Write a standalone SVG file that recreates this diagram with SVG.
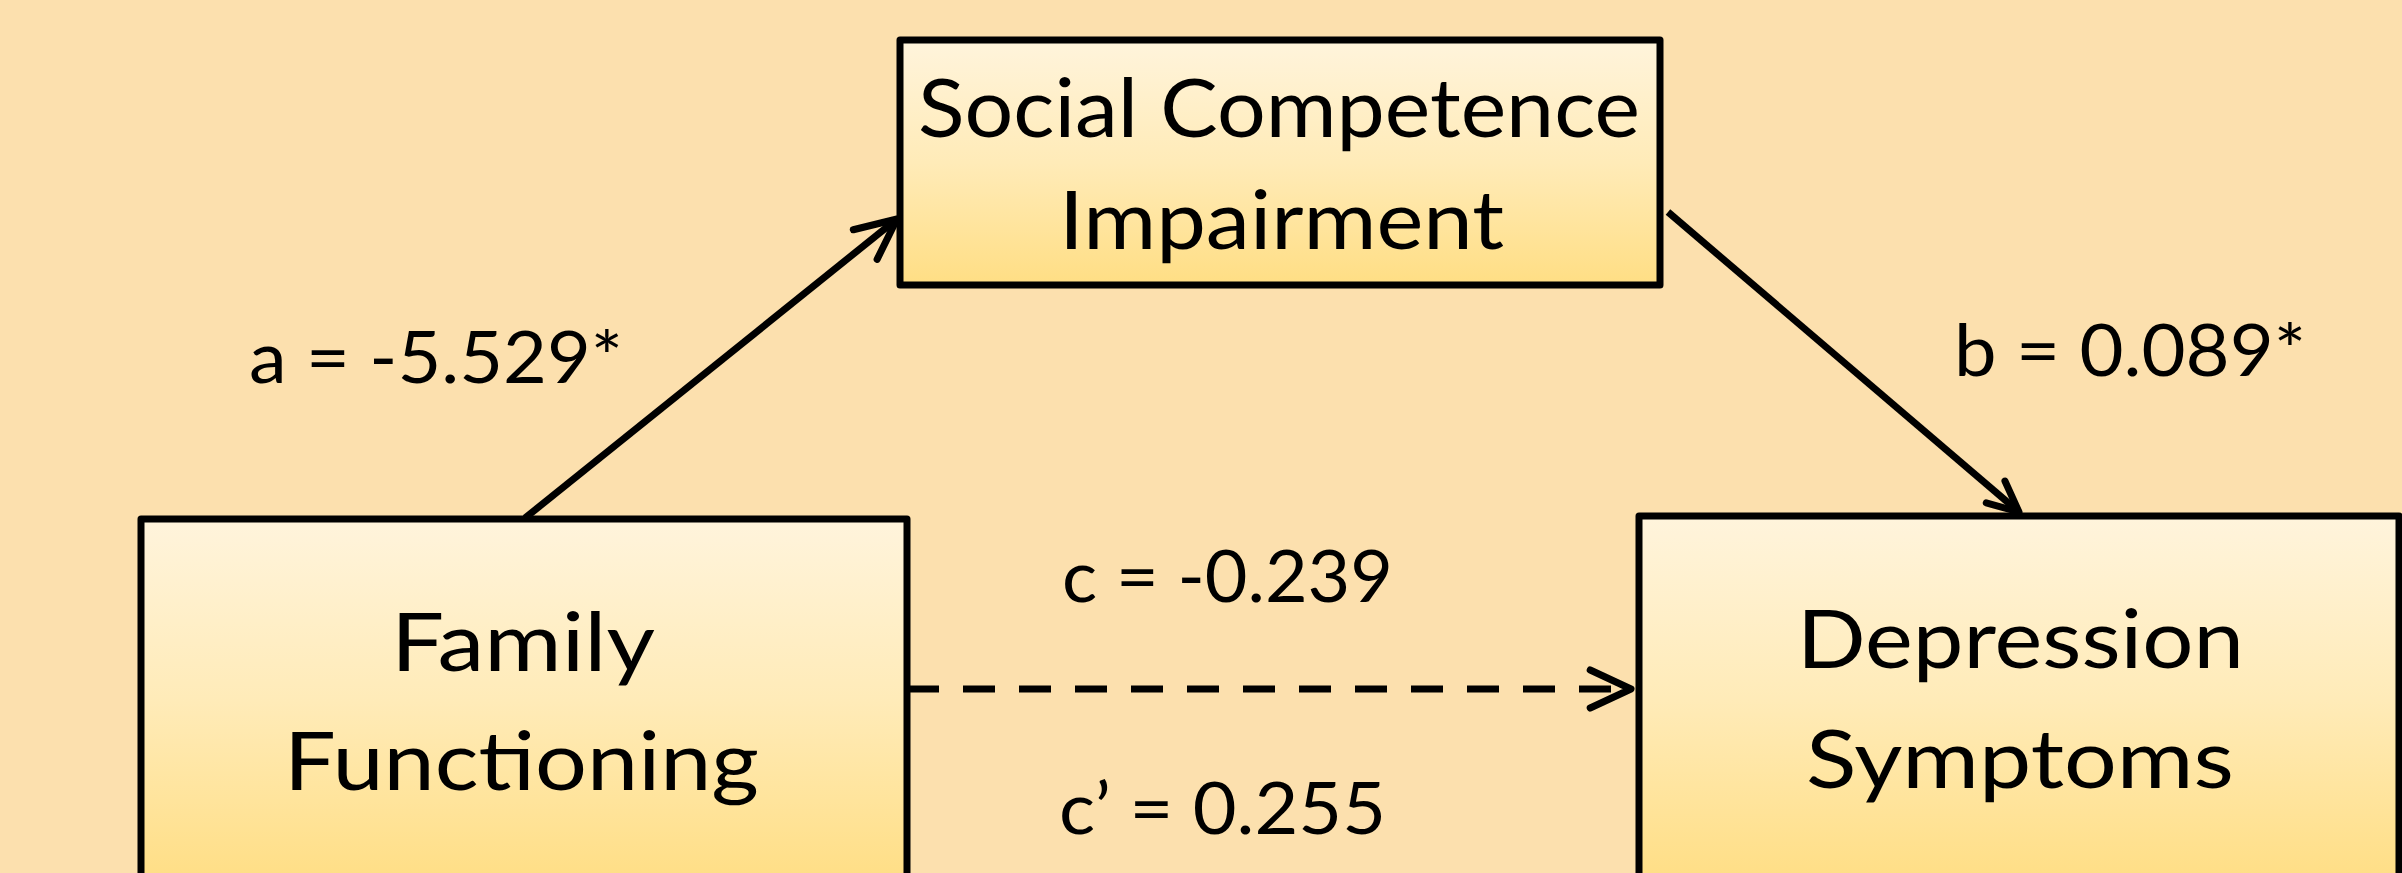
<svg xmlns="http://www.w3.org/2000/svg" width="2402" height="873" viewBox="0 0 2402 873">
  <style>
    .box { stroke: #000; stroke-width: 7; stroke-linejoin: round; fill: url(#boxFill); }
    .node-text { font-family: Lato, "Open Sans", "Liberation Sans", sans-serif; font-size: 82px; fill: #000; }
    .label { font-family: Lato, "Open Sans", "Liberation Sans", sans-serif; font-size: 72px; fill: #000; }
    .edge { stroke: #000; stroke-width: 7; fill: none; stroke-linecap: butt; }
    .dashed { stroke-dasharray: 32 24; }
    .head { stroke: #000; stroke-width: 7; fill: none; stroke-linecap: round; stroke-linejoin: round; stroke-dasharray: none; }
  </style>
  <defs>
    <linearGradient id="boxFill" x1="0" y1="0" x2="0" y2="1">
      <stop offset="0" stop-color="#FFF4DC"/>
      <stop offset="0.5" stop-color="#FFEBB8"/>
      <stop offset="1" stop-color="#FFDE84"/>
    </linearGradient>
    <marker id="arrow" markerUnits="userSpaceOnUse" markerWidth="100" markerHeight="100" refX="0" refY="0" orient="auto" overflow="visible">
      <path class="head" d="M -40.8 -19 L 0 0 L -40.8 19"/>
    </marker>
    <marker id="arrow-sm" markerUnits="userSpaceOnUse" markerWidth="100" markerHeight="100" refX="0" refY="0" orient="auto" overflow="visible">
      <path class="head" d="M -30.8 -14.4 L 0 0 L -30.8 14.4"/>
    </marker>
  </defs>

  <!-- background -->
  <rect x="0" y="0" width="2402" height="873" fill="#FCE0AE"/>

  <!-- paths between the variables -->
  <g id="connectors">
    <line id="edge-a" class="edge" x1="525" y1="518" x2="897" y2="219" marker-end="url(#arrow)"/>
    <line id="edge-b" class="edge" x1="1668" y1="212" x2="2019" y2="512" marker-end="url(#arrow-sm)"/>
    <line id="edge-c" class="edge dashed" x1="907" y1="689" x2="1631" y2="689" marker-end="url(#arrow)"/>
  </g>

  <g id="node-social">
    <rect class="box" x="900" y="40" width="760" height="245"/>
    <text class="node-text" x="918" y="137" textLength="722" lengthAdjust="spacingAndGlyphs">Social Competence</text>
    <text class="node-text" x="1059" y="249" textLength="445" lengthAdjust="spacingAndGlyphs">Impairment</text>
  </g>

  <g id="node-family">
    <rect class="box" x="141" y="519" width="766" height="365"/>
    <text class="node-text" x="391" y="671" textLength="264" lengthAdjust="spacingAndGlyphs">Family</text>
    <text class="node-text" x="284" y="790" textLength="475" lengthAdjust="spacingAndGlyphs">Functioning</text>
  </g>

  <g id="node-depression">
    <rect class="box" x="1639" y="516" width="760" height="368"/>
    <text class="node-text" x="1797" y="668" textLength="447" lengthAdjust="spacingAndGlyphs">Depression</text>
    <text class="node-text" x="1806" y="788" textLength="428" lengthAdjust="spacingAndGlyphs">Symptoms</text>
  </g>

  <g id="labels">
    <text class="label" x="249" y="383" textLength="374" lengthAdjust="spacingAndGlyphs">a = -5.529*</text>
    <text class="label" x="1954" y="376" textLength="352" lengthAdjust="spacingAndGlyphs">b = 0.089*</text>
    <text class="label" x="1062" y="602" textLength="331" lengthAdjust="spacingAndGlyphs">c = -0.239</text>
    <text class="label" x="1059" y="834" textLength="327" lengthAdjust="spacingAndGlyphs">c’ = 0.255</text>
  </g>
</svg>
